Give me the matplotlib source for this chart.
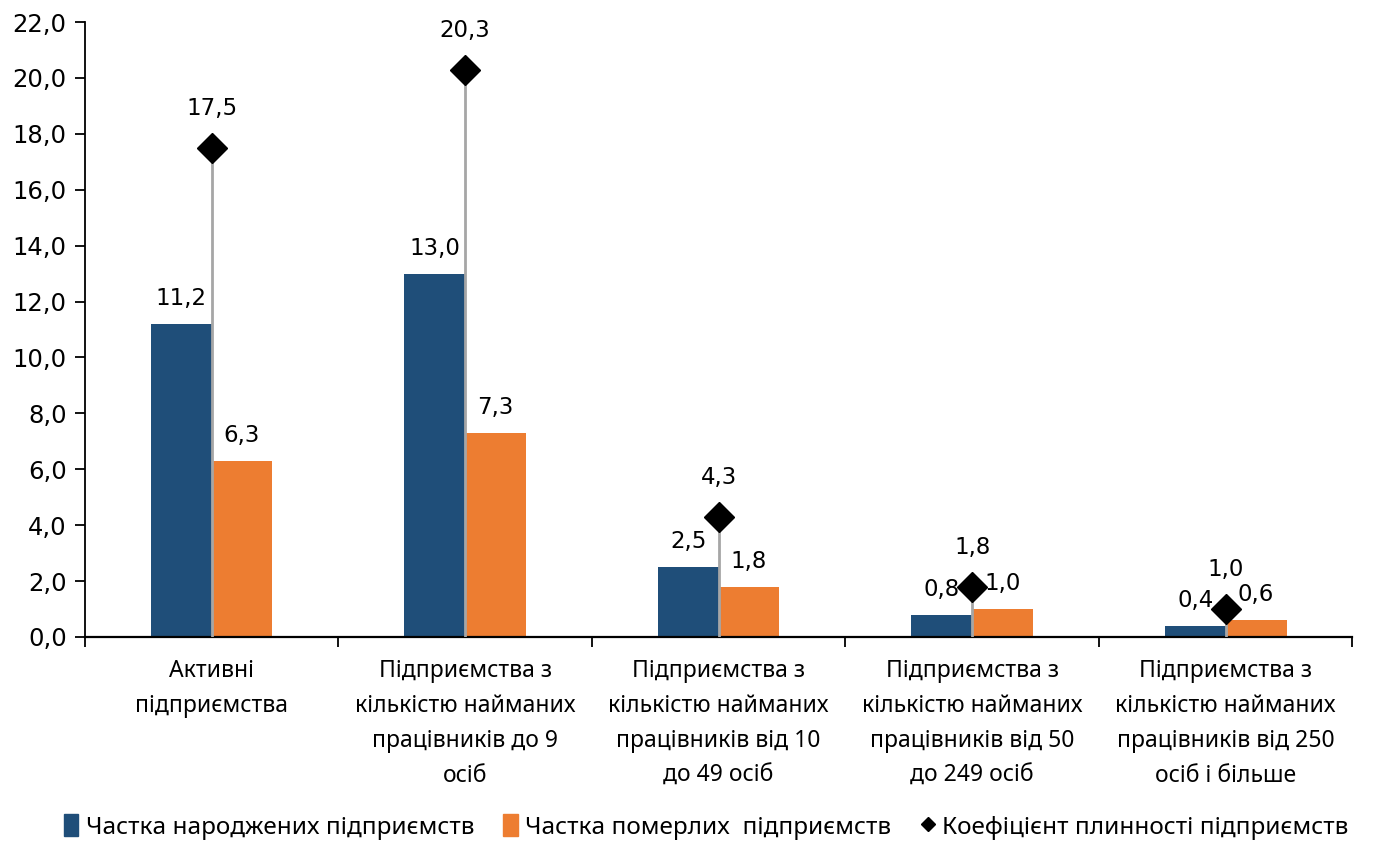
import numpy as np
import matplotlib
matplotlib.use('Agg')
import matplotlib.pyplot as plt
from matplotlib.lines import Line2D
from matplotlib.patches import Patch

categories = ['Активні\nпідприємства',
              'Підприємства з\nкількістю найманих\nпрацівників до 9\nосіб',
              'Підприємства з\nкількістю найманих\nпрацівників від 10\nдо 49 осіб',
              'Підприємства з\nкількістю найманих\nпрацівників від 50\nдо 249 осіб',
              'Підприємства з\nкількістю найманих\nпрацівників від 250\nосіб і більше']
born = [11.2, 13.0, 2.5, 0.8, 0.4]
dead = [6.3, 7.3, 1.8, 1.0, 0.6]
ratio = [17.5, 20.3, 4.3, 1.8, 1.0]
legend_labels = ['Частка народжених підприємств', 'Частка померлих  підприємств',
                 'Коефіцієнт плинності підприємств']

blue = '#1F4E79'
orange = '#ED7D31'
num_font = ['DejaVu Sans']
txt_font = ['Noto Sans', 'DejaVu Sans']

def fmt(v):
    return f'{v:.1f}'.replace('.', ',')

plt.rcParams['font.family'] = num_font
fig = plt.figure(figsize=(13.9, 8.43), dpi=100)
ax = fig.add_axes([0.061, 0.2444, 0.912, 0.7295])

x = np.arange(len(categories))
w = 0.24
ax.bar(x - w / 2, born, w, color=blue, zorder=2)
ax.bar(x + w / 2, dead, w, color=orange, zorder=2)
ax.vlines(x, 0, ratio, color='#A6A6A6', lw=2, zorder=3)
ax.plot(x, ratio, 'D', color='black', ms=15, ls='none', zorder=4)

for i in range(len(x)):
    ax.annotate(fmt(born[i]), (x[i] - w / 2, born[i]), xytext=(0, 10), textcoords='offset points',
                ha='center', va='bottom', fontsize=16.5, family=num_font)
    ax.annotate(fmt(dead[i]), (x[i] + w / 2, dead[i]), xytext=(0, 10), textcoords='offset points',
                ha='center', va='bottom', fontsize=16.5, family=num_font)
    ax.annotate(fmt(ratio[i]), (x[i], ratio[i]), xytext=(0, 20), textcoords='offset points',
                ha='center', va='bottom', fontsize=16.5, family=num_font)

ax.set_xlim(-0.5, len(x) - 0.5)
ax.set_ylim(0, 22)
ax.set_yticks(np.arange(0, 22.1, 2))
ax.set_yticklabels([fmt(v) for v in np.arange(0, 22.1, 2)], fontsize=17.5, family=num_font)
ax.set_xticks(x)
ax.set_xticklabels(categories, fontsize=16.5, linespacing=1.6, family=txt_font)
ax.set_xticks(np.arange(-0.5, len(x), 1), minor=True)
ax.tick_params(axis='x', which='major', length=0, pad=16)
ax.tick_params(axis='x', which='minor', length=7, width=1.3, direction='out')
ax.tick_params(axis='y', length=7, width=1.3, direction='out', pad=6)
for s in ['top', 'right']:
    ax.spines[s].set_visible(False)
ax.spines['left'].set_linewidth(1.3)
ax.spines['bottom'].set_linewidth(1.6)

handles = [Patch(color=blue), Patch(color=orange),
           Line2D([], [], marker='D', color='black', ls='none', ms=7)]
fig.legend(handles, legend_labels, loc='lower center', bbox_to_anchor=(0.508, -0.022), ncol=3,
           frameon=False, handlelength=0.6, handleheight=1.0, handletextpad=0.3,
           columnspacing=1.2, prop={'family': txt_font, 'size': 17.5})

fig.savefig('out.png', dpi=100)
